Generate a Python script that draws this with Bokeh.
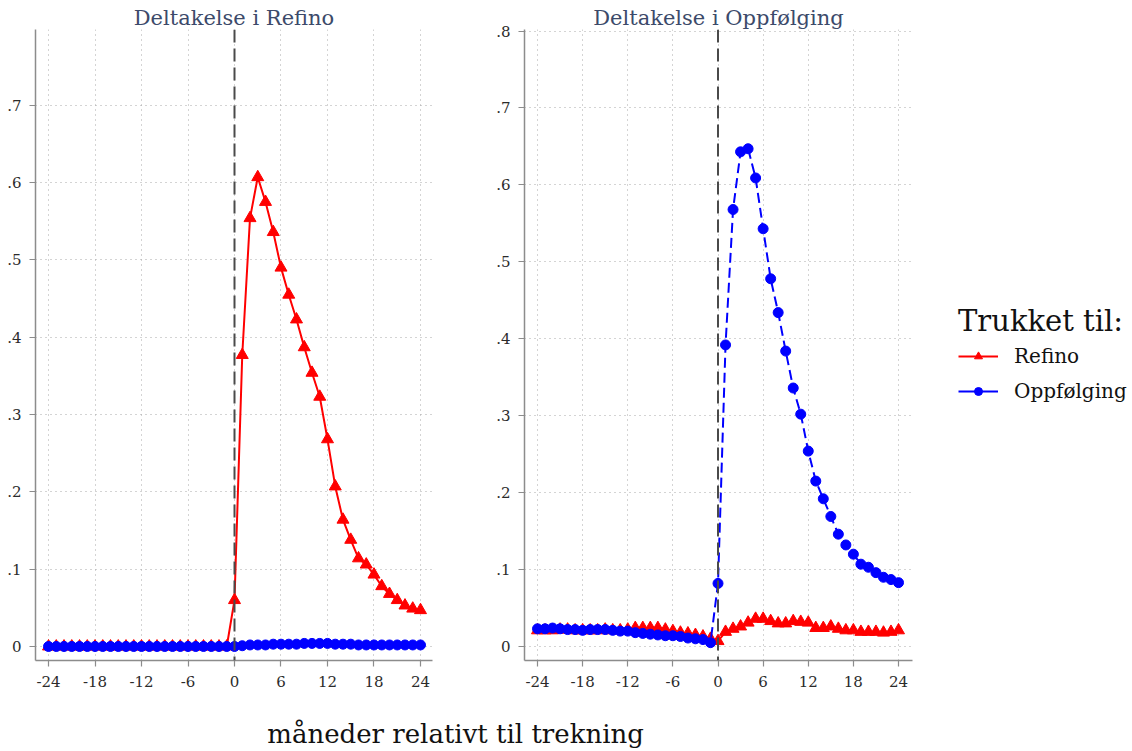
from bokeh.plotting import figure
from bokeh.models import Span, Label, Legend, LegendItem, ColumnDataSource, FixedTicker
from bokeh.layouts import row, column
from bokeh.embed import file_html
from bokeh.resources import INLINE

# ---------------- data ----------------
months = list(range(-24, 25))

# Panel 1: participation in Refino
refino_p1 = [0.0] * 24 + [0.060, 0.377, 0.554, 0.607, 0.575, 0.536, 0.490, 0.455, 0.423,
                          0.387, 0.354, 0.323, 0.268, 0.207, 0.164, 0.138, 0.114, 0.106,
                          0.093, 0.078, 0.068, 0.060, 0.053, 0.049, 0.047]
oppf_p1 = [0.0] * 25 + [0.001, 0.002, 0.002, 0.002, 0.003, 0.003, 0.003, 0.003, 0.004,
                        0.004, 0.004, 0.004, 0.003, 0.003, 0.003, 0.002, 0.002, 0.002,
                        0.002, 0.002, 0.002, 0.002, 0.002, 0.002]

# Panel 2: participation in Oppfølging
refino_p2 = [0.021, 0.021, 0.021, 0.022, 0.022, 0.021, 0.021, 0.021, 0.021, 0.022, 0.021,
             0.021, 0.022, 0.024, 0.024, 0.024, 0.024, 0.022, 0.020, 0.018, 0.017, 0.015,
             0.013, 0.010, 0.007, 0.019, 0.023, 0.026, 0.031, 0.036, 0.036, 0.033, 0.030,
             0.030, 0.033, 0.032, 0.031, 0.024, 0.024, 0.026, 0.023, 0.021, 0.021, 0.019,
             0.019, 0.019, 0.018, 0.019, 0.021]
oppf_p2 = [0.023, 0.023, 0.024, 0.023, 0.022, 0.022, 0.021, 0.022, 0.022, 0.022, 0.021,
           0.020, 0.020, 0.018, 0.017, 0.016, 0.015, 0.014, 0.014, 0.013, 0.011, 0.010,
           0.009, 0.005, 0.082, 0.392, 0.568, 0.643, 0.647, 0.609, 0.543, 0.478, 0.434,
           0.384, 0.336, 0.302, 0.254, 0.215, 0.192, 0.169, 0.146, 0.132, 0.120, 0.107,
           0.103, 0.096, 0.090, 0.087, 0.083]

x_ticks = [-24, -18, -12, -6, 0, 6, 12, 18, 24]
x_tick_labels = ["-24", "-18", "-12", "-6", "0", "6", "12", "18", "24"]
y_ticks = [0, 0.1, 0.2, 0.3, 0.4, 0.5, 0.6, 0.7, 0.8]
y_tick_labels = ["0", ".1", ".2", ".3", ".4", ".5", ".6", ".7", ".8"]

titles = ["Deltakelse i Refino", "Deltakelse i Oppfølging"]
legend_title = "Trukket til:"
series_names = ["Refino", "Oppfølging"]
x_title = "måneder relativt til trekning"

RED = "#ff0000"
BLUE = "#0000ff"
SERIF = "DejaVu Serif"
AXIS_C = "#8c8c8c"
TITLE_C = "#3c4a6a"


def style(p, n_y, title, standoff):
    p.outline_line_color = None
    p.background_fill_color = "white"
    p.border_fill_color = "white"
    p.title.text = title
    p.title.align = "center"
    p.title.text_font = SERIF
    p.title.text_font_size = "21px"
    p.title.text_font_style = "normal"
    p.title.text_color = TITLE_C
    p.title.standoff = standoff
    for ax in (p.xaxis[0], p.yaxis[0]):
        ax.axis_line_color = AXIS_C
        ax.axis_line_width = 1.5
        ax.major_tick_line_color = AXIS_C
        ax.major_tick_line_width = 1.2
        ax.major_tick_out = 6
        ax.major_tick_in = 0
        ax.minor_tick_line_color = None
        ax.major_label_text_font = SERIF
        ax.major_label_text_font_size = "15px"
        ax.major_label_text_color = "#2b2b2b"
    p.xaxis.ticker = FixedTicker(ticks=x_ticks)
    p.xaxis.major_label_overrides = dict(zip(x_ticks, x_tick_labels))
    p.xaxis.major_label_standoff = 9
    p.yaxis.ticker = FixedTicker(ticks=y_ticks[:n_y])
    p.yaxis.major_label_overrides = dict(zip(y_ticks[:n_y], y_tick_labels[:n_y]))
    p.yaxis.major_label_standoff = 8
    for g in (p.xgrid[0], p.ygrid[0]):
        g.grid_line_color = "#a8a8a8"
        g.grid_line_dash = "1 4"
        g.grid_line_width = 1
    p.xgrid.ticker = FixedTicker(ticks=x_ticks)
    p.ygrid.ticker = FixedTicker(ticks=y_ticks[:n_y])
    p.add_layout(Span(location=0, dimension="height", line_color="#4a4a4a",
                      line_width=2, line_dash="13 6"))


def panel(width, height, x_rng, y_rng, mb):
    return figure(width=width, height=height, x_range=x_rng, y_range=y_rng,
                  output_backend="svg", toolbar_location=None,
                  min_border_left=mb[0], min_border_right=mb[1],
                  min_border_top=mb[2], min_border_bottom=mb[3])


# ---------------- panel 1 ----------------
p1 = panel(480, 705, (-25.68, 25.55), (-0.0181, 0.798), (35, 48, 29, 45))
style(p1, 8, titles[0], 0)
s1 = ColumnDataSource(dict(m=months, r=refino_p1, o=oppf_p1))
p1.line("m", "r", source=s1, line_color=RED, line_width=2)
p1.scatter("m", "r", source=s1, marker="triangle", size=12, fill_color=RED, line_color=RED)
p1.line("m", "o", source=s1, line_color=BLUE, line_width=2, line_dash="10 5")
p1.scatter("m", "o", source=s1, marker="circle", size=10, fill_color=BLUE, line_color=BLUE)

# ---------------- panel 2 ----------------
p2 = panel(436, 705, (-25.73, 25.86), (-0.0182, 0.802), (44, 4, 29, 45))
style(p2, 9, titles[1], 0)
s2 = ColumnDataSource(dict(m=months, r=refino_p2, o=oppf_p2))
p2.line("m", "r", source=s2, line_color=RED, line_width=2)
p2.scatter("m", "r", source=s2, marker="triangle", size=12, fill_color=RED, line_color=RED)
p2.line("m", "o", source=s2, line_color=BLUE, line_width=2, line_dash="10 5")
p2.scatter("m", "o", source=s2, marker="circle", size=10, fill_color=BLUE, line_color=BLUE)

# ---------------- legend panel ----------------
pl = figure(width=216, height=705, x_range=(100, 101), y_range=(100, 101),
            output_backend="svg", toolbar_location=None,
            min_border_left=0, min_border_right=0, min_border_top=0, min_border_bottom=0)
pl.axis.visible = False
pl.grid.visible = False
pl.outline_line_color = None
# renderers used only as legend samples (their data lies outside this panel's ranges)
lr1 = pl.line("m", "r", source=s2, line_color=RED, line_width=2)
lr2 = pl.scatter("m", "r", source=s2, marker="triangle", size=12, fill_color=RED, line_color=RED)
lo1 = pl.line("m", "o", source=s2, line_color=BLUE, line_width=2)
lo2 = pl.scatter("m", "o", source=s2, marker="circle", size=10, fill_color=BLUE, line_color=BLUE)
legend = Legend(items=[LegendItem(label=series_names[0], renderers=[lr1, lr2]),
                       LegendItem(label=series_names[1], renderers=[lo1, lo2])],
                location=(42, 257), title=legend_title)
legend.title_text_font = SERIF
legend.title_text_font_size = "29px"
legend.title_text_font_style = "normal"
legend.title_text_color = "#111111"
legend.title_standoff = 6
legend.label_text_font = SERIF
legend.label_text_font_size = "20px"
legend.label_text_color = "#111111"
legend.glyph_width = 40
legend.glyph_height = 20
legend.label_height = 20
legend.label_standoff = 16
legend.spacing = 11
legend.border_line_color = None
legend.background_fill_alpha = 0
legend.margin = 0
legend.padding = 5
pl.add_layout(legend)

# ---------------- common x title ----------------
p3 = figure(width=1132, height=46, x_range=(0, 1), y_range=(0, 1),
            output_backend="svg", toolbar_location=None,
            min_border_left=0, min_border_right=0, min_border_top=0, min_border_bottom=0)
p3.axis.visible = False
p3.grid.visible = False
p3.outline_line_color = None
p3.add_layout(Label(x=0.402, y=0.38, text=x_title, text_align="center", text_baseline="middle",
                    text_font=SERIF, text_font_size="26px", text_color="#111111"))

layout = column(row(p1, p2, pl), p3)
open("out.html", "w").write(file_html(layout, INLINE))
